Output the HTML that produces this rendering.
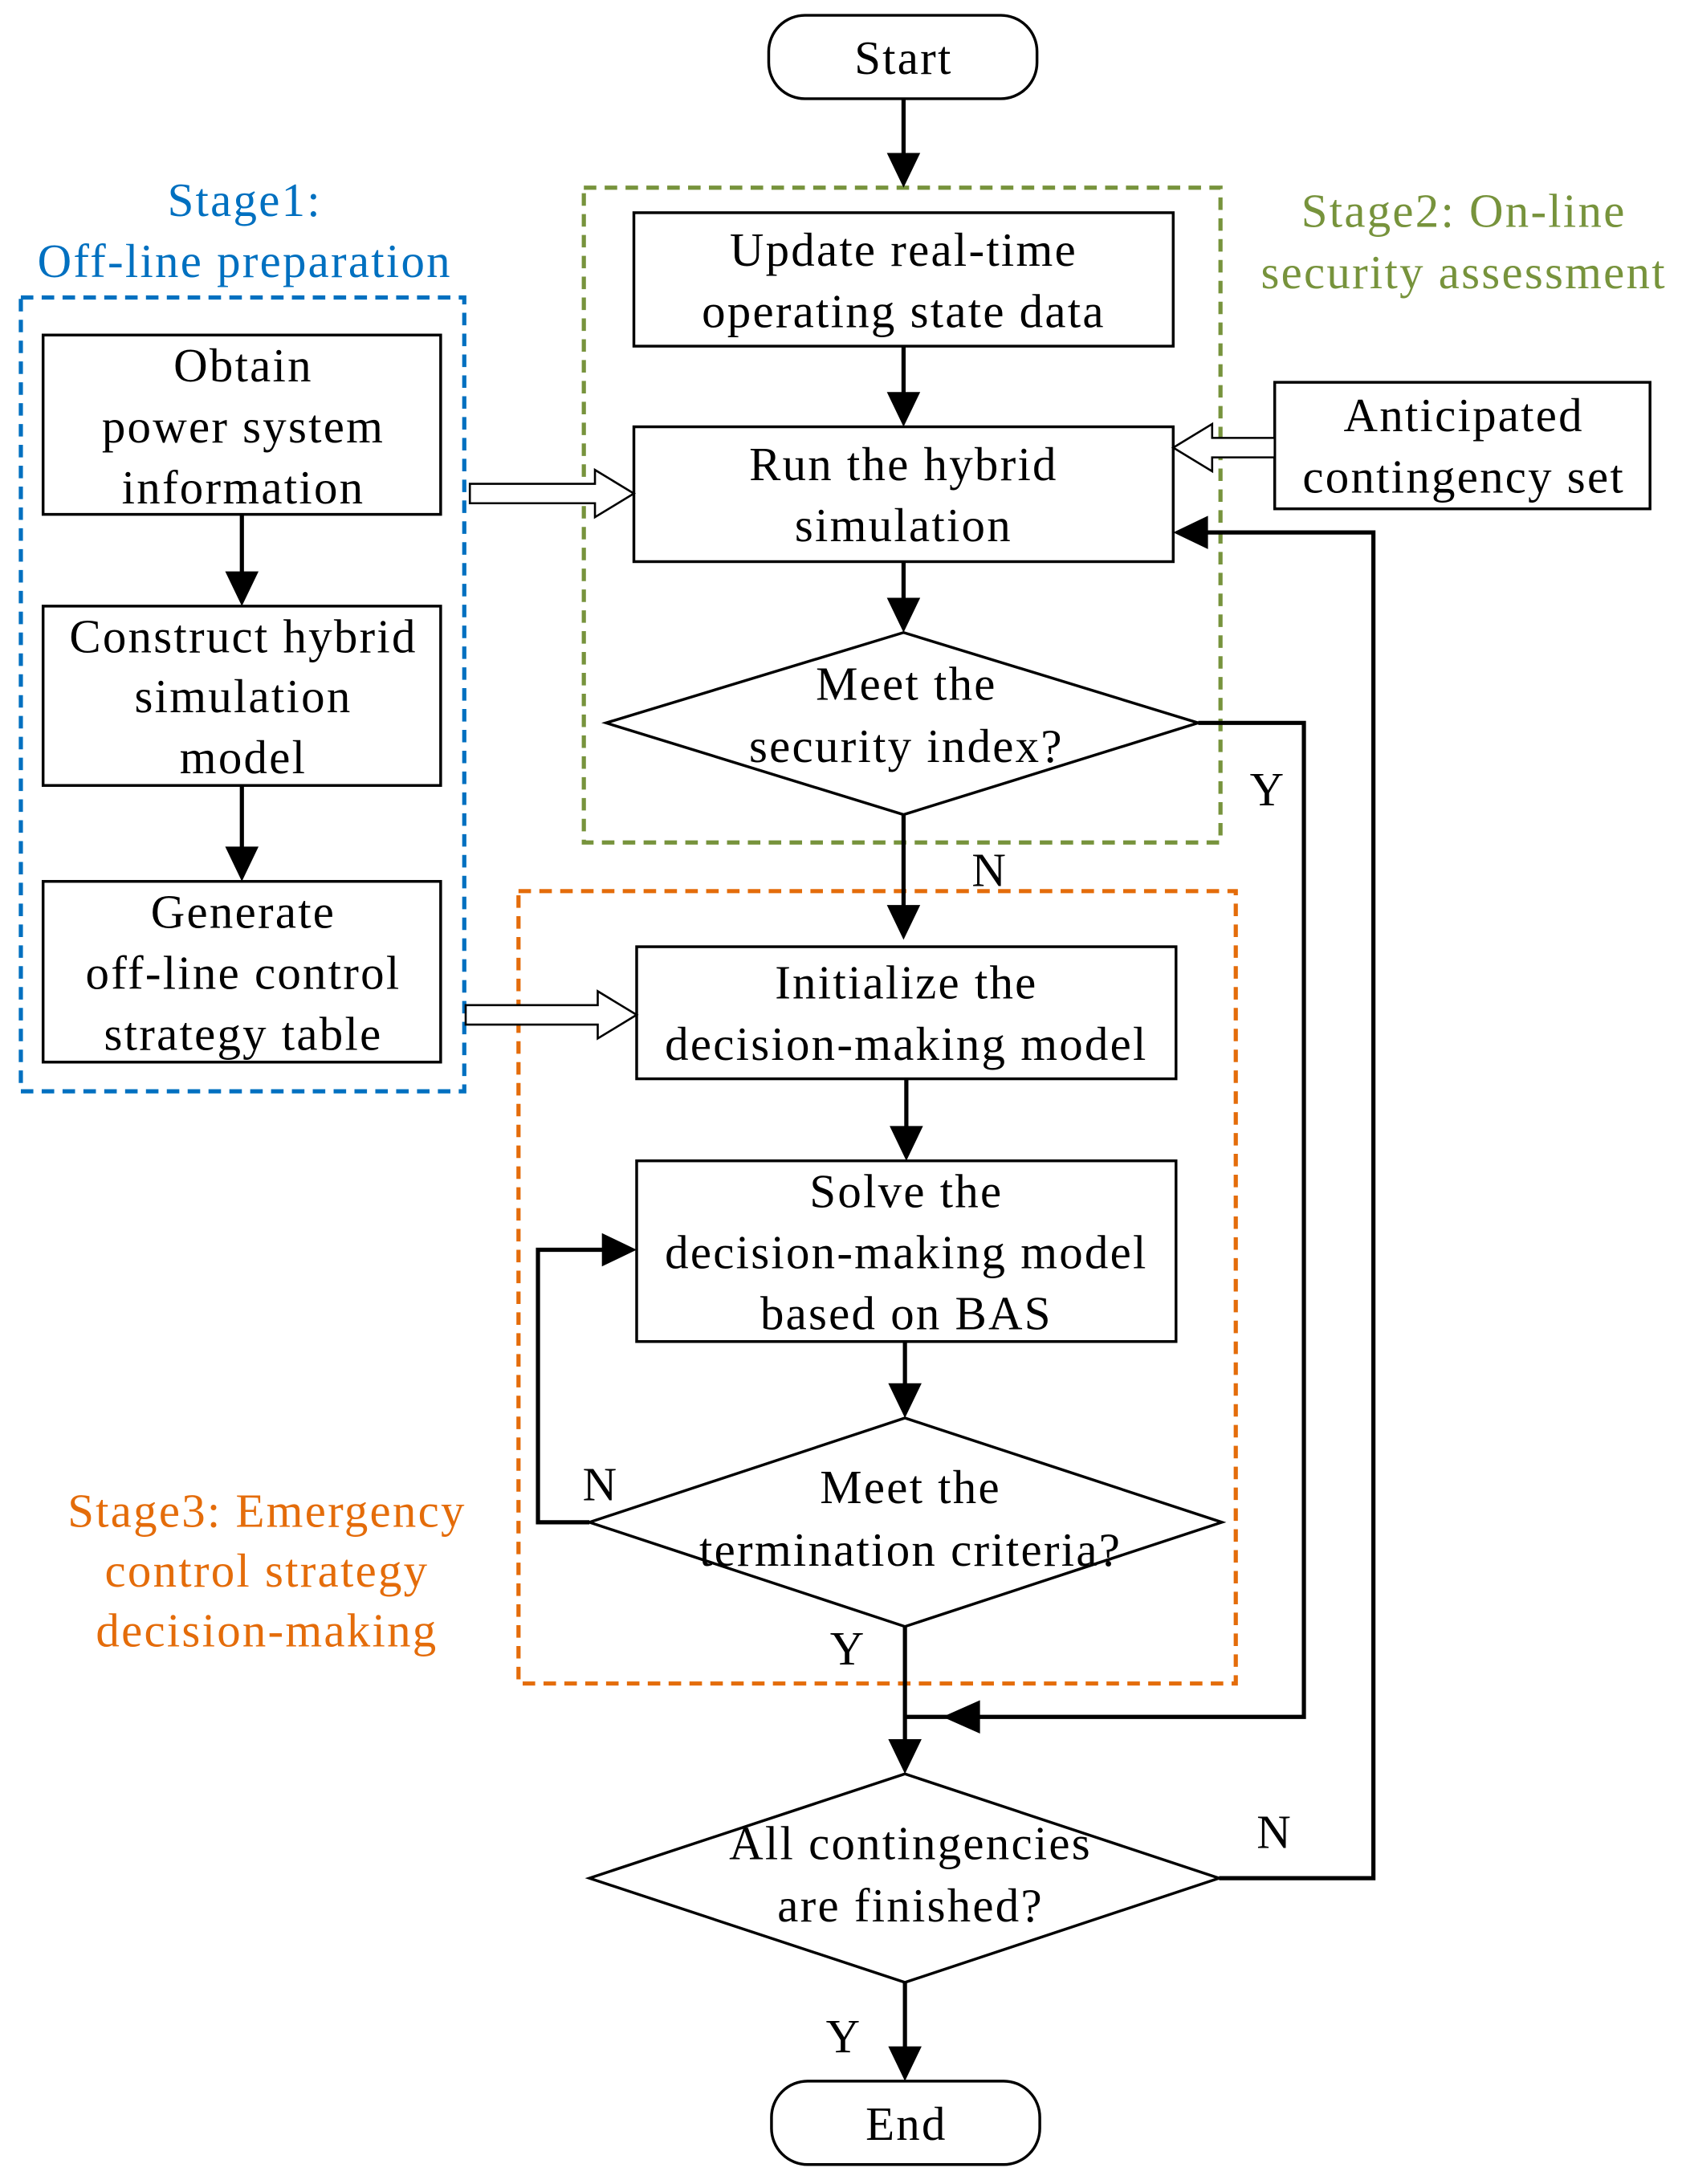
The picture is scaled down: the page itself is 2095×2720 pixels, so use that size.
<!DOCTYPE html>
<html><head><meta charset="utf-8"><style>
html,body{margin:0;padding:0;background:#fff}
svg{display:block}
text{font-family:"Liberation Serif",serif;font-size:34px;letter-spacing:1.3px;text-anchor:middle;dominant-baseline:central}
</style></head><body>
<svg width="2095" height="2720" viewBox="0 0 1210 1571" preserveAspectRatio="none" xmlns="http://www.w3.org/2000/svg">
<g fill="none" stroke="#000" stroke-width="2">
<rect x="553" y="11" width="193" height="60" rx="26"/>
<rect x="555" y="1497" width="193" height="60" rx="26"/>
<rect x="456" y="153" width="388" height="96"/>
<rect x="456" y="307" width="388" height="97"/>
<rect x="917" y="275" width="270" height="91"/>
<rect x="458" y="681" width="388" height="95"/>
<rect x="458" y="835" width="388" height="130"/>
<rect x="31" y="241" width="286" height="129"/>
<rect x="31" y="436" width="286" height="129"/>
<rect x="31" y="634" width="286" height="130"/>
<polygon points="436,520 650,455 862,520 650,586"/>
<polygon points="424,1095 651,1020 879,1095 651,1170"/>
<polygon points="424,1351 651,1276 877,1351 651,1426"/>
</g>
<g fill="none" stroke-width="3" stroke-dasharray="9,6">
<rect x="420" y="135" width="458" height="471" stroke="#77933c"/>
<rect x="373" y="641" width="516" height="570" stroke="#e46c0a"/>
<rect x="15" y="214" width="319" height="571" stroke="#0070c0"/>
</g>
<g fill="none" stroke="#000" stroke-width="3">
<line x1="650" y1="71" x2="650" y2="112"/>
<line x1="650" y1="249" x2="650" y2="285"/>
<line x1="650" y1="404" x2="650" y2="432"/>
<line x1="650" y1="586" x2="650" y2="653"/>
<line x1="652" y1="776" x2="652" y2="812"/>
<line x1="651" y1="965" x2="651" y2="997"/>
<line x1="651" y1="1170" x2="651" y2="1253"/>
<line x1="651" y1="1426" x2="651" y2="1474"/>
<line x1="174" y1="370" x2="174" y2="413"/>
<line x1="174" y1="565" x2="174" y2="611"/>
<polyline points="862,520 938,520 938,1235 651,1235"/>
<polyline points="424,1095 387,1095 387,899 435,899"/>
<polyline points="877,1351 988,1351 988,383 867,383"/>
</g>
<g fill="#000">
<polygon points="650,135 638,110 662,110"/>
<polygon points="650,307 638,282 662,282"/>
<polygon points="650,455 638,430 662,430"/>
<polygon points="650,676 638,651 662,651"/>
<polygon points="652,835 640,810 664,810"/>
<polygon points="651,1020 639,995 663,995"/>
<polygon points="651,1276 639,1251 663,1251"/>
<polygon points="651,1497 639,1472 663,1472"/>
<polygon points="174,436 162,411 186,411"/>
<polygon points="174,634 162,609 186,609"/>
<polygon points="678,1235 705,1223 705,1247"/>
<polygon points="458,899 433,887 433,911"/>
<polygon points="844,383 869,371 869,395"/>
</g>
<g fill="#fff" stroke="#000" stroke-width="1.5">
<polygon points="338,348 428,348 428,338 456,355 428,372 428,362 338,362"/>
<polygon points="335,723 430,723 430,713 458,730 430,747 430,737 335,737"/>
<polygon points="917,315 872,315 872,305 844,322 872,339 872,329 917,329"/>
</g>
<g fill="#000">
<text x="650" y="42">Start</text>
<text x="652" y="1528">End</text>
<text x="650" y="180">Update real-time</text>
<text x="650" y="224">operating state data</text>
<text x="650" y="334">Run the hybrid</text>
<text x="650" y="378">simulation</text>
<text x="1053" y="299">Anticipated</text>
<text x="1053" y="343">contingency set</text>
<text x="652" y="492">Meet the</text>
<text x="652" y="537">security index?</text>
<text x="652" y="707">Initialize the</text>
<text x="652" y="751">decision-making model</text>
<text x="652" y="857">Solve the</text>
<text x="652" y="901">decision-making model</text>
<text x="652" y="945">based on BAS</text>
<text x="655" y="1070">Meet the</text>
<text x="655" y="1115">termination criteria?</text>
<text x="655" y="1326">All contingencies</text>
<text x="655" y="1371">are finished?</text>
<text x="175" y="263">Obtain</text>
<text x="175" y="307">power system</text>
<text x="175" y="351">information</text>
<text x="175" y="458">Construct hybrid</text>
<text x="175" y="501">simulation</text>
<text x="175" y="545">model</text>
<text x="175" y="656">Generate</text>
<text x="175" y="700">off-line control</text>
<text x="175" y="744">strategy table</text>
<text x="912" y="568">Y</text>
<text x="712" y="626">N</text>
<text x="432" y="1068">N</text>
<text x="610" y="1186">Y</text>
<text x="917" y="1318">N</text>
<text x="607" y="1465">Y</text>
</g>
<g fill="#77933c"><text x="1053" y="152">Stage2: On-line</text><text x="1053" y="196">security assessment</text></g>
<g fill="#0070c0"><text x="176" y="144">Stage1:</text><text x="176" y="188">Off-line preparation</text></g>
<g fill="#e46c0a"><text x="192" y="1087">Stage3: Emergency</text><text x="192" y="1130">control strategy</text><text x="192" y="1173">decision-making</text></g>
</svg>
</body></html>
